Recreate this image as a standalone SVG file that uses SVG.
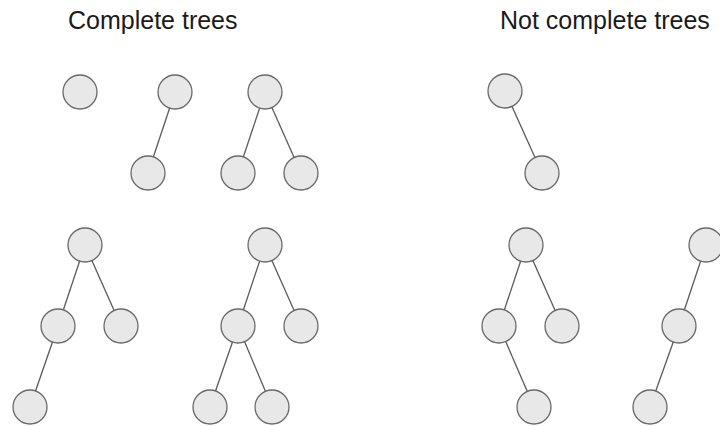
<svg xmlns="http://www.w3.org/2000/svg" width="720" height="426" viewBox="0 0 720 426">
<style>
.n{fill:#e8e8e8;stroke:#6a6a6a;stroke-width:1.3}
.e{stroke:#5a5a5a;stroke-width:1.3;fill:none}
.t{font-family:"Liberation Sans",Arial,sans-serif;font-size:25px;fill:#1a1a1a}
</style>
<rect width="720" height="426" fill="#ffffff"/>
<text class="t" x="68" y="29">Complete trees</text>
<text class="t" x="500" y="29">Not complete trees</text>
<g id="connectors">
<line class="e" x1="175" y1="92" x2="148" y2="173"/>
<line class="e" x1="265" y1="92" x2="238" y2="173"/>
<line class="e" x1="265" y1="92" x2="301" y2="173"/>
<line class="e" x1="505" y1="91" x2="542" y2="173"/>
<line class="e" x1="85" y1="245" x2="58" y2="326"/>
<line class="e" x1="85" y1="245" x2="121" y2="326"/>
<line class="e" x1="58" y1="326" x2="30" y2="407"/>
<line class="e" x1="265" y1="245" x2="238" y2="326"/>
<line class="e" x1="265" y1="245" x2="301" y2="326"/>
<line class="e" x1="238" y1="326" x2="210" y2="407"/>
<line class="e" x1="238" y1="326" x2="272" y2="407"/>
<line class="e" x1="526" y1="245" x2="499" y2="326"/>
<line class="e" x1="526" y1="245" x2="562" y2="326"/>
<line class="e" x1="499" y1="326" x2="534" y2="407"/>
<line class="e" x1="706" y1="245" x2="679" y2="326"/>
<line class="e" x1="679" y1="326" x2="650" y2="407"/>
</g>
<g id="n1"><circle class="n" cx="80" cy="92" r="17"/></g>
<g id="n2"><circle class="n" cx="175" cy="92" r="17"/></g>
<g id="n3"><circle class="n" cx="148" cy="173" r="17"/></g>
<g id="n4"><circle class="n" cx="265" cy="92" r="17"/></g>
<g id="n5"><circle class="n" cx="238" cy="173" r="17"/></g>
<g id="n6"><circle class="n" cx="301" cy="173" r="17"/></g>
<g id="n7"><circle class="n" cx="505" cy="91" r="17"/></g>
<g id="n8"><circle class="n" cx="542" cy="173" r="17"/></g>
<g id="n9"><circle class="n" cx="85" cy="245" r="17"/></g>
<g id="n10"><circle class="n" cx="58" cy="326" r="17"/></g>
<g id="n11"><circle class="n" cx="121" cy="326" r="17"/></g>
<g id="n12"><circle class="n" cx="30" cy="407" r="17"/></g>
<g id="n13"><circle class="n" cx="265" cy="245" r="17"/></g>
<g id="n14"><circle class="n" cx="238" cy="326" r="17"/></g>
<g id="n15"><circle class="n" cx="301" cy="326" r="17"/></g>
<g id="n16"><circle class="n" cx="210" cy="407" r="17"/></g>
<g id="n17"><circle class="n" cx="272" cy="407" r="17"/></g>
<g id="n18"><circle class="n" cx="526" cy="245" r="17"/></g>
<g id="n19"><circle class="n" cx="499" cy="326" r="17"/></g>
<g id="n20"><circle class="n" cx="562" cy="326" r="17"/></g>
<g id="n21"><circle class="n" cx="534" cy="407" r="17"/></g>
<g id="n22"><circle class="n" cx="706" cy="245" r="17"/></g>
<g id="n23"><circle class="n" cx="679" cy="326" r="17"/></g>
<g id="n24"><circle class="n" cx="650" cy="407" r="17"/></g>
</svg>
